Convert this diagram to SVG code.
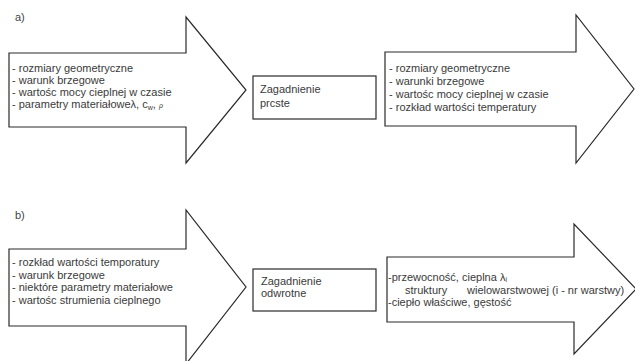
<svg xmlns="http://www.w3.org/2000/svg" width="635" height="361" viewBox="0 0 635 361">
<style>
.arrow{fill:#fff;stroke:#2a2a2a;stroke-width:1.2;stroke-linejoin:miter}
.box{fill:#fff;stroke:#2a2a2a;stroke-width:1.2}
text{font-family:"Liberation Sans",Arial,sans-serif;font-size:11px;fill:#3a3a3a}
.lbl{font-size:11px;fill:#444}
.sub{font-size:7px}
</style>
<rect width="635" height="361" fill="#fff"/>
<text class="lbl" x="15" y="21">a)</text>
<text class="lbl" x="15" y="219">b)</text>
<g id="input-a">
<polygon class="arrow" points="9,53 186,53 186,17 246,90 186,163 186,127 9,127"/>
<text x="12" y="72">- rozmiary geometryczne</text>
<text x="12" y="84">- warunk  brzegowe</text>
<text x="12" y="96">- wartośc mocy cieplnej w czasie</text>
<text x="12" y="108">- parametry materiałoweλ, c<tspan class="sub" dy="2">w</tspan><tspan dy="-2">, </tspan><tspan class="sub" font-style="italic">ρ</tspan></text>
</g>
<g id="problem-a">
<rect class="box" x="253" y="76" width="123" height="43"/>
<text x="260" y="93">Zagadnienie</text>
<text x="260" y="107">prcste</text>
</g>
<g id="output-a">
<polygon class="arrow" points="385,52 576,52 576,15 634,89 576,163 576,126 385,126"/>
<text x="389" y="72">- rozmiary geometryczne</text>
<text x="389" y="85">- warunki brzegowe</text>
<text x="389" y="98">- wartośc mocy cieplnej w czasie</text>
<text x="389" y="111">- rozkład wartości temperatury</text>
</g>
<g id="input-b">
<polygon class="arrow" points="9,249 186,249 186,210 246,287 186,364 186,326 9,326"/>
<text x="12" y="266">- rozkład wartości temporatury</text>
<text x="12" y="279">- warunk  brzegowe</text>
<text x="12" y="291">- niektóre parametry materiałowe</text>
<text x="12" y="304">- wartośc strumienia cieplnego</text>
</g>
<g id="problem-b">
<rect class="box" x="253" y="269" width="123" height="42"/>
<text x="261" y="285">Zagadnienie</text>
<text x="261" y="297">odwrotne</text>
</g>
<g id="output-b">
<polygon class="arrow" points="387,257 574,257 574,224 636,289 574,354 574,322 387,322"/>
<text x="388" y="281">-przewocność,  cieplna λ<tspan class="sub" dy="1">i</tspan></text>
<text x="405" y="294">struktury</text>
<text x="467" y="294">wielowarstwowej (i -  nr warstwy)</text>
<text x="388" y="306">-ciepło właściwe, gęstość</text>
</g>
<g id="connectors"/>
</svg>
